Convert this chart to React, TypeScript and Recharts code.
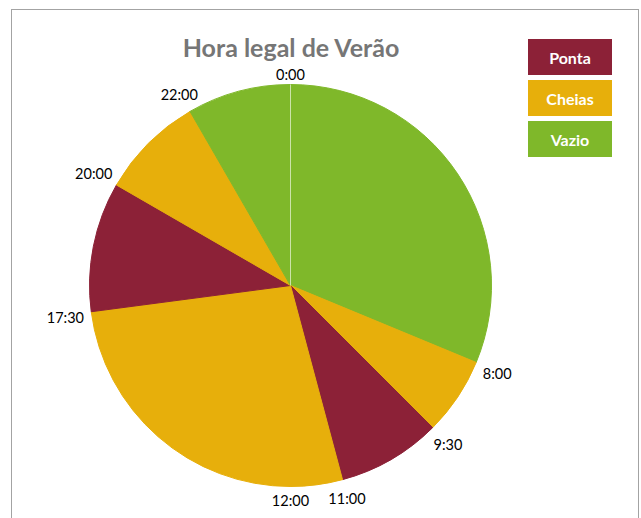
import React from 'react';
import { PieChart, Pie, Cell, Legend } from 'recharts';

const categories = ['Ponta', 'Cheias', 'Vazio'];
const categoryColors = ['#8C2137', '#E7AF0B', '#7FB82A'];
const startLabels = ['0:00', '8:00', '9:30', '11:00', '12:00', '17:30', '20:00', '22:00'];
const periods = ['Vazio', 'Cheias', 'Ponta', 'Cheias', 'Cheias', 'Ponta', 'Cheias', 'Vazio'];
const hours = [7.5, 1.5, 2, 1, 5.5, 2.5, 2, 2];

const data = hours.map((h, i) => ({ name: startLabels[i], period: periods[i], value: h }));
const colorOf = (p: string) => categoryColors[categories.indexOf(p)];

const FONT = 'Lato, "Open Sans", sans-serif';
const RAD = Math.PI / 180;
const LABEL_SIZE = 14.5;

const renderLabel = (props: any) => {
  const { cx, cy, outerRadius, startAngle, index } = props;
  const text = startLabels[index];
  const a = -startAngle * RAD;
  const cos = Math.cos(a);
  const sin = Math.sin(a);
  const hw = text.length * LABEL_SIZE * 0.28;
  const hh = LABEL_SIZE * 0.5;
  const r = outerRadius + 5 + Math.abs(cos) * hw + Math.abs(sin) * hh;
  const x = cx + r * cos;
  const y = cy + r * sin + 2;
  const ex = cx + outerRadius * cos;
  const ey = cy + outerRadius * sin;
  return (
    <g>
      {index === 0 && (
        <line x1={cx} y1={cy} x2={ex} y2={ey} stroke="#ffffff" strokeOpacity={0.6} strokeWidth={1} />
      )}
      <text x={x} y={y} textAnchor="middle" dominantBaseline="central" fill="#000" fontSize={LABEL_SIZE} fontFamily={FONT}>
        {text}
      </text>
    </g>
  );
};

const LegendBoxes = () => (
  <div style={{ display: 'flex', flexDirection: 'column', gap: 5 }}>
    {categories.map((c, i) => (
      <div
        key={c}
        style={{
          width: 84,
          height: 36,
          background: categoryColors[i],
          color: '#fff',
          fontFamily: FONT,
          fontWeight: 700,
          fontSize: 16,
          display: 'flex',
          alignItems: 'center',
          justifyContent: 'center',
        }}
      >
        {c}
      </div>
    ))}
  </div>
);

export default function App() {
  return (
    <div style={{ position: 'absolute', left: 0, top: 0, width: 641, height: 518, overflow: 'hidden', background: '#fff' }}>
      <div
        style={{
          position: 'absolute',
          left: 11,
          top: 9,
          width: 628,
          height: 600,
          border: '1px solid #a3a3a3',
          boxSizing: 'border-box',
        }}
      />
      <div
        style={{
          position: 'absolute',
          left: 0,
          top: 32,
          width: 582,
          textAlign: 'center',
          fontFamily: FONT,
          fontWeight: 700,
          fontSize: 25,
          color: '#767676',
        }}
      >
        Hora legal de Verão
      </div>
      <div style={{ position: 'absolute', left: 0, top: 0 }}>
        <PieChart width={641} height={518} margin={{ top: 0, right: 0, bottom: 0, left: 0 }}>
          <Pie
            data={data}
            dataKey="value"
            nameKey="name"
            cx={290.5}
            cy={285.5}
            outerRadius={201}
            startAngle={90}
            endAngle={-270}
            label={renderLabel}
            labelLine={false}
            isAnimationActive={false}
          >
            {data.map((d, i) => (
              <Cell key={i} fill={colorOf(d.period)} stroke={colorOf(d.period)} strokeWidth={1} />
            ))}
          </Pie>
          <Legend
            layout="vertical"
            verticalAlign="top"
            align="right"
            wrapperStyle={{ position: 'absolute', left: 528, top: 39, width: 84 }}
            content={() => <LegendBoxes />}
          />
        </PieChart>
      </div>
    </div>
  );
}
